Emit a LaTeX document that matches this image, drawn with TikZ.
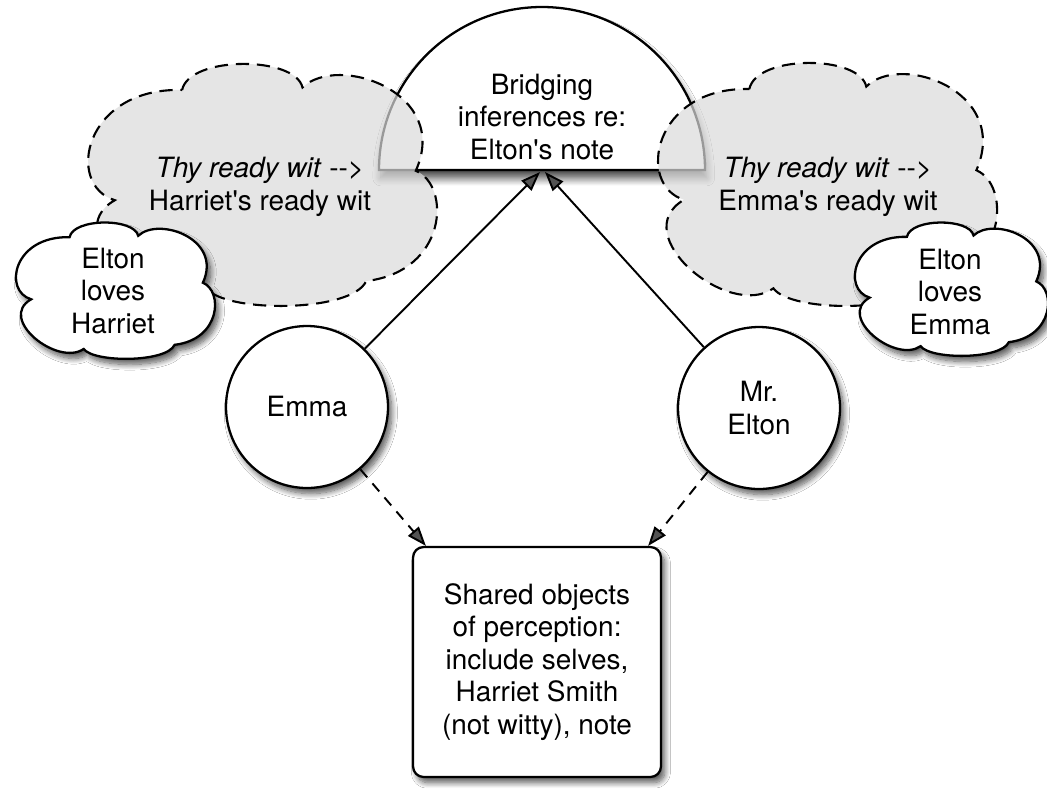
\documentclass[tikz,border=0pt]{standalone}
\usepackage{fontspec}
\setmainfont{TeX Gyre Heros}[Ligatures=TeXOff]
\usetikzlibrary{arrows.meta,shadows.blur}

% Cloud outline fitted to a box: top-left corner (#1,#2), width #3, height #4
\newcommand{\cloudoutline}[4]{%
  ({#1+0.28*#3},{#2+0.11*#4})
  .. controls ({#1+0.30*#3},{#2-0.03*#4}) and ({#1+0.60*#3},{#2-0.03*#4}) .. ({#1+0.62*#3},{#2+0.10*#4})
  .. controls ({#1+0.72*#3},{#2-0.04*#4}) and ({#1+1.04*#3},{#2+0.12*#4}) .. ({#1+0.94*#3},{#2+0.44*#4})
  .. controls ({#1+1.04*#3},{#2+0.50*#4}) and ({#1+1.03*#3},{#2+0.85*#4}) .. ({#1+0.80*#3},{#2+0.89*#4})
  .. controls ({#1+0.76*#3},{#2+1.02*#4}) and ({#1+0.40*#3},{#2+1.02*#4}) .. ({#1+0.35*#3},{#2+0.92*#4})
  .. controls ({#1+0.22*#3},{#2+1.05*#4}) and ({#1-0.08*#3},{#2+0.70*#4}) .. ({#1+0.09*#3},{#2+0.56*#4})
  .. controls ({#1-0.05*#3},{#2+0.50*#4}) and ({#1+0.00*#3},{#2+0.10*#4}) .. ({#1+0.28*#3},{#2+0.11*#4})
  -- cycle}

\tikzset{
  softshadow/.style={blur shadow={shadow xshift=2.2pt, shadow yshift=-3.2pt,
      shadow blur radius=3.2pt, shadow blur steps=10, shadow opacity=65}},
  lbl/.style={font=\fontsize{15.9}{18.5}\selectfont, align=center, inner sep=0pt},
  dome/.style={draw, line width=1.3pt, fill=white,
      blur shadow={shadow xshift=1pt, shadow yshift=-4.5pt,
      shadow blur radius=4.5pt, shadow blur steps=10, shadow opacity=75}},
  thought/.style={draw, line width=1.2pt, fill=black!14, fill opacity=0.7,
      dash pattern=on 7.5pt off 4.5pt},
  belief/.style={draw, line width=1.3pt, fill=white, softshadow},
  person/.style={circle, draw, line width=1.3pt, fill=white, minimum size=3.24cm,
      inner sep=0pt, lbl, softshadow},
  stage/.style={rectangle, rounded corners=6pt, draw, line width=1.3pt, fill=white,
      minimum width=4.96cm, minimum height=4.6cm, lbl, softshadow},
  link/.style={line width=1.1pt, -{Triangle[length=11pt,width=8pt]}},
  percept/.style={link, dash pattern=on 6pt off 4.5pt},
}

\begin{document}
\begin{tikzpicture}[x=0.02cm, y=-0.02cm]
  \useasboundingbox (0,0) rectangle (1047,788);
  \fill[white] (0,0) rectangle (1047,788);

  % half-disc holding the bridging inferences
  \path[dome] (379,170) arc[start angle=180, end angle=360, radius=163] -- cycle;
  \node[lbl] (bridge) at (542,117) {Bridging\\inferences re:\\Elton's note};
  \coordinate (bridgeL) at (540,172);
  \coordinate (bridgeR) at (545,172);

  % dashed thought clouds
  \path[thought] \cloudoutline{83}{63}{354}{245};
  \path[thought] \cloudoutline{653}{62}{344}{246};
  \node[lbl] (witL) at (260,187) {\textit{Thy ready wit} -->\\Harriet's ready wit};
  \node[lbl] (witR) at (828,187) {\textit{Thy ready wit} -->\\Emma's ready wit};

  % belief clouds
  \path[belief] \cloudoutline{13}{222}{202}{138};
  \path[belief] \cloudoutline{852}{222}{196}{135};
  \node[lbl] (loveL) at (113,291) {Elton\\loves\\Harriet};
  \node[lbl] (loveR) at (950,292) {Elton\\loves\\Emma};

  % agents and the shared scene
  \node[person] (emma) at (307,407) {Emma};
  \node[person] (elton) at (759,408) {Mr.\\Elton};
  \node[stage] (shared) at (537,662)
    {Shared objects\\of perception:\\include selves,\\Harriet Smith\\(not witty), note};

  % connectors
  \draw[link] (emma) -- (bridgeL);
  \draw[link] (elton) -- (bridgeR);
  \draw[percept] (emma) -- ([xshift=0.28cm]shared.north west);
  \draw[percept] (elton) -- ([xshift=-0.28cm]shared.north east);
\end{tikzpicture}
\end{document}
